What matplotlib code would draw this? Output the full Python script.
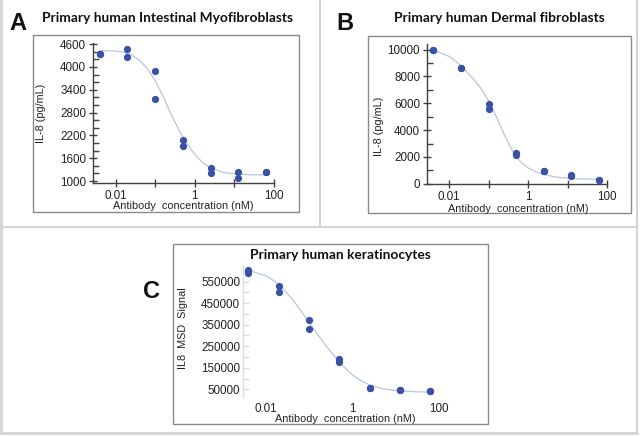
import matplotlib
matplotlib.use("Agg")
import matplotlib.pyplot as plt
from matplotlib.patches import Rectangle
from matplotlib.lines import Line2D
from matplotlib.ticker import FixedLocator, NullLocator, NullFormatter

# ---------------- data ----------------
conc = [0.004, 0.02, 0.1, 0.5, 2.5, 12.5, 62.5]

a_rep1 = [4350, 4470, 3900, 2090, 1330, 1240, 1245]
a_rep2 = [4345, 4270, 3170, 1915, 1200, 1080, 1230]

b_rep1 = [9950, 8600, 5930, 2270, 970, 620, 300]
b_rep2 = [9950, 8600, 5540, 2130, 970, 560, 300]

c_rep1 = [605000, 530000, 370000, 192000, 58000, 47000, 40000]
c_rep2 = [590000, 500000, 330000, 175000, 58000, 47000, 40000]

# fitted curves
curve_conc = [0.004, 0.01, 0.016, 0.025, 0.04, 0.063, 0.1, 0.16, 0.25, 0.4,
              0.63, 1.0, 1.6, 2.5, 5.0, 10, 25, 70]
a_curve = [4430, 4420, 4390, 4320, 4180, 3960, 3640, 3220, 2760, 2340,
           1990, 1700, 1480, 1340, 1230, 1185, 1165, 1160]
b_curve = [9960, 9500, 9050, 8500, 7850, 7150, 6200, 4950, 3650, 2480,
           1680, 1180, 880, 690, 500, 410, 350, 320]
c_curve = [603000, 578000, 552000, 518000, 472000, 418000, 360000, 303000,
           250000, 200000, 155000, 117000, 89000, 70000, 52000, 44000, 39000, 36000]

x_ticks = [0.01, 0.1, 1, 10, 100]
x_labels = ["0.01", "", "1", "", "100"]

a_yticks = [1000, 1600, 2200, 2800, 3400, 4000, 4600]
b_yticks = [0, 2000, 4000, 6000, 8000, 10000]
c_yticks = [50000, 150000, 250000, 350000, 450000, 550000]

titles = ["Primary human Intestinal Myofibroblasts",
          "Primary human Dermal fibroblasts",
          "Primary human keratinocytes"]
letters = ["A", "B", "C"]
ylabels = ["IL-8 (pg/mL)", "IL-8 (pg/mL)", "IL8  MSD  Signal"]
xlabel = "Antibody  concentration (nM)"

# ---------------- style ----------------
W, H = 640, 436
DOT = "#3a52a6"
CURVE = "#b9c3e6"
SANS = ["Liberation Sans", "DejaVu Sans"]
TITLEF = ["Lato", "DejaVu Sans"]

fig = plt.figure(figsize=(W / 100, H / 100), dpi=100)


def box(x0, y0, x1, y1):
    return [x0 / W, 1 - y1 / H, (x1 - x0) / W, (y1 - y0) / H]


def fx(x):
    return x / W


def fy(y):
    return 1 - y / H


# figure separators and outer border
sep = "#d4d4d4"
fig.add_artist(Line2D([fx(1), fx(1)], [fy(0), fy(433)], color=sep, lw=2))
fig.add_artist(Line2D([fx(637), fx(637)], [fy(0), fy(433)], color=sep, lw=1.5))
fig.add_artist(Line2D([fx(1), fx(637)], [fy(433), fy(433)], color=sep, lw=2))
fig.add_artist(Line2D([fx(320), fx(320)], [fy(0), fy(227)], color=sep, lw=1.5))
fig.add_artist(Line2D([fx(1), fx(637)], [fy(227), fy(227)], color=sep, lw=1.5))

# panel frames
frame = "#8a8a8a"
for (x0, y0, x1, y1) in [(33, 35, 299, 212), (368, 36, 631, 213), (173, 244, 488, 424)]:
    fig.add_artist(Rectangle((fx(x0), fy(y1)), (x1 - x0) / W, (y1 - y0) / H,
                             fill=False, edgecolor=frame, lw=1.0))


def style_axis(ax, yticks, yminor, light=False):
    ax.set_xscale("log")
    ax.xaxis.set_major_locator(FixedLocator(x_ticks))
    ax.set_xticklabels(x_labels)
    ax.xaxis.set_minor_locator(NullLocator())
    ax.xaxis.set_minor_formatter(NullFormatter())
    ax.set_yticks(yticks)
    ax.set_yticklabels([str(v) for v in yticks])
    ax.yaxis.set_minor_locator(FixedLocator(yminor))
    for s in ["top", "right"]:
        ax.spines[s].set_visible(False)
    sc = "#dcdcdc" if light else "#404040"
    for s in ["left", "bottom"]:
        ax.spines[s].set_color(sc)
        ax.spines[s].set_linewidth(1.0)
    if light:
        ax.spines["bottom"].set_visible(False)
    ax.tick_params(axis="both", which="major", direction="inout", length=6,
                   width=1.0, color=sc, labelsize=8.4, pad=2, labelcolor="#222222")
    ax.tick_params(axis="both", which="minor", direction="in", length=4,
                   width=1.0, color=sc)
    if light:
        ax.tick_params(axis="x", which="major", length=0, pad=4)
    for t in ax.get_xticklabels() + ax.get_yticklabels():
        t.set_fontfamily(SANS)
    ax.patch.set_alpha(0)


def plot_panel(ax, curve, r1, r2):
    ax.plot(curve_conc, curve, color=CURVE, lw=0.9, zorder=2)
    ax.plot(conc, r1, "o", color=DOT, ms=4.2, mec=DOT, zorder=3)
    ax.plot(conc, r2, "o", color=DOT, ms=4.2, mec=DOT, zorder=3)


# ---- Panel A ----
axA = fig.add_axes(box(93, 43, 274, 183))
plot_panel(axA, a_curve, a_rep1, a_rep2)
axA.set_xlim(10 ** -2.57, 100)
axA.set_ylim(948, 4630)
style_axis(axA, a_yticks, [v for v in range(1000, 4601, 200) if (v - 1000) % 600 != 0])

# ---- Panel B ----
axB = fig.add_axes(box(427, 44, 607, 184))
plot_panel(axB, b_curve, b_rep1, b_rep2)
axB.set_xlim(10 ** -2.56, 100)
style_axis(axB, b_yticks, [1000, 3000, 5000, 7000, 9000])
axB.set_ylim(-20, 10420)

# ---- Panel C ----
axC = fig.add_axes(box(243, 266, 440, 397))
plot_panel(axC, c_curve, c_rep1, c_rep2)
axC.set_xlim(10 ** -2.524, 10 ** 2.02)
axC.set_ylim(14000, 623000)
style_axis(axC, c_yticks, [100000, 200000, 300000, 400000, 500000, 600000], light=True)
axC.tick_params(axis="y", which="major", direction="in", length=4)

# ---------------- text ----------------
for (x, y, s) in [(18, 24, letters[0]), (345, 24, letters[1]), (152, 291, letters[2])]:
    fig.text(fx(x), fy(y), s, fontsize=17, fontweight="bold", family=SANS,
             ha="center", va="center", color="#111111")

fig.text(fx(167.5), fy(17.5), titles[0], fontsize=9.9, fontweight="bold",
         family=TITLEF, ha="center", va="center", color="#111111")
fig.text(fx(499), fy(18.5), titles[1], fontsize=9.9, fontweight="bold",
         family=TITLEF, ha="center", va="center", color="#111111")
fig.text(fx(340), fy(254.5), titles[2], fontsize=9.9, fontweight="bold",
         family=TITLEF, ha="center", va="center", color="#111111")

for (x, y) in [(183.7, 205.5), (518, 208.5), (345, 418.5)]:
    fig.text(fx(x), fy(y), xlabel, fontsize=7.8, family=SANS, ha="center",
             va="center", color="#222222")

for (x, y, s) in [(40.5, 113, ylabels[0]), (378.5, 126.5, ylabels[1]), (182.5, 328, ylabels[2])]:
    fig.text(fx(x), fy(y), s, fontsize=7.8, family=SANS, ha="center",
             va="center", rotation=90, color="#222222")

fig.savefig("out.png", dpi=100)
